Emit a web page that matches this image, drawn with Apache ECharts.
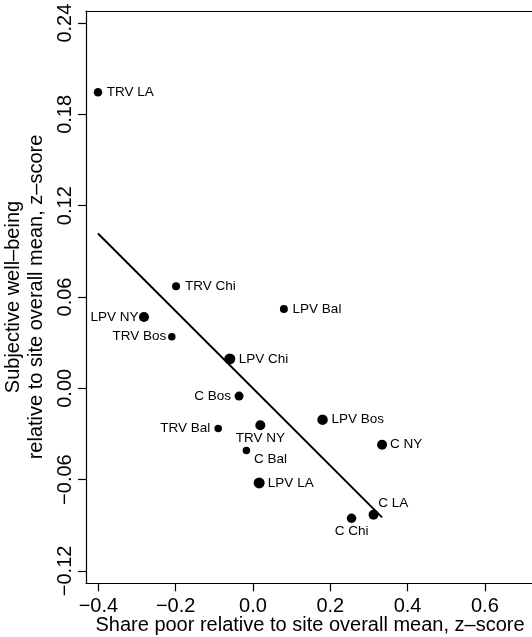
<!DOCTYPE html>
<html>
<head>
<meta charset="utf-8">
<script src="https://cdn.jsdelivr.net/npm/echarts@6/dist/echarts.min.js"></script>
<style>html,body{margin:0;padding:0;background:#fff}#c{width:532px;height:637px}</style>
</head>
<body>
<div id="c"></div>
<script>
// ---- data ----
var siteNames = ['TRV LA','TRV Chi','LPV NY','LPV Bal','TRV Bos','LPV Chi','C Bos','LPV Bos','TRV Bal','TRV NY','C NY','C Bal','LPV LA','C LA','C Chi'];
var sharePoor = [-0.401,-0.199,-0.282,0.080,-0.210,-0.060,-0.036,0.180,-0.090,0.019,0.334,-0.017,0.016,0.312,0.255];
var wellBeing = [0.1945,0.0670,0.0469,0.0521,0.0339,0.0193,-0.0051,-0.0206,-0.0265,-0.0243,-0.0371,-0.0408,-0.0622,-0.0831,-0.0854];
var pointSizes = [8.5,8,10,8,7.5,11,9,10.5,7.5,10,10,7.5,11,10,9.5];
var fitX = [-0.401, 0.334];
var fitY = [0.1017, -0.0848];
var xTicks = [-0.4,-0.2,0.0,0.2,0.4,0.6];
var yTicks = [-0.12,-0.06,0.00,0.06,0.12,0.18,0.24];

// ---- label layout (style only) ----
var labelAlign = ['left','left','right','left','right','left','right','left','right','center','left','left','left','left','center'];
var labelDx = [8.7,9,-5.5,8.7,-5.5,9,-8,9,-8,0,8,7.7,8.7,4.7,0];
var labelDy = [0,0,0,0,0,0,0,0,0,13,0,8.7,0,-11.3,13.3];

var FONT = 'Liberation Sans';
var XMIN = -0.432, XMAX = 0.7219, YMIN = -0.12815, YMAX = 0.24795;
function fmt(v, d){ var s = Math.abs(v).toFixed(d); return (v < -1e-9 ? '\u2212' : '') + s; }

var pts = siteNames.map(function(n, i){
  return {
    name: n,
    value: [sharePoor[i], wellBeing[i]],
    symbolSize: pointSizes[i],
    label: { align: labelAlign[i], offset: [labelDx[i], labelDy[i]] }
  };
});

var axisLineStyle = { color: '#000', width: 1.2 };
var chart = echarts.init(document.getElementById('c'), null, {renderer:'canvas'});
chart.setOption({
  animation: false,
  backgroundColor: '#fff',
  grid: { left: 86, top: 11, right: 0, bottom: 53.7, show: false, containLabel: false },
  xAxis: [{
    type: 'value', min: XMIN, max: XMAX,
    splitLine: { show: false },
    axisLine: { show: true, onZero: false, lineStyle: axisLineStyle },
    axisTick: { show: true, length: 8, customValues: xTicks, lineStyle: axisLineStyle },
    axisLabel: { customValues: xTicks, margin: 13, fontSize: 20, fontFamily: FONT, color: '#000',
      formatter: function(v){ return fmt(v, 1); } }
  }, {
    type: 'value', position: 'top', min: XMIN, max: XMAX,
    splitLine: { show: false },
    axisLine: { show: true, onZero: false, lineStyle: axisLineStyle },
    axisTick: { show: false }, axisLabel: { show: false }
  }],
  yAxis: {
    type: 'value', min: YMIN, max: YMAX,
    splitLine: { show: false },
    axisLine: { show: true, onZero: false, lineStyle: axisLineStyle },
    axisTick: { show: true, length: 8, customValues: yTicks, lineStyle: axisLineStyle },
    axisLabel: { customValues: yTicks, rotate: 90, margin: 11, fontSize: 20, fontFamily: FONT, color: '#000',
      formatter: function(v){ return fmt(v, 2); } }
  },
  series: [
    {
      type: 'line',
      data: fitX.map(function(x, i){ return [x, fitY[i]]; }),
      symbol: 'none',
      lineStyle: { color: '#000', width: 2 },
      z: 2
    },
    {
      type: 'scatter',
      data: pts,
      itemStyle: { color: '#000', opacity: 1 },
      z: 3,
      label: {
        show: true, position: 'inside', formatter: '{b}', color: '#000',
        verticalAlign: 'middle', fontSize: 13.5, fontFamily: FONT
      }
    }
  ],
  graphic: [
    { type: 'text', x: 310, y: 625.4, style: { text: 'Share poor relative to site overall mean, z\u2013score', font: '20px "Liberation Sans"', fill: '#000', textAlign: 'center', textVerticalAlign: 'middle' } },
    { type: 'text', x: 13, y: 297, rotation: Math.PI/2, style: { text: 'Subjective well\u2013being', font: '20px "Liberation Sans"', fill: '#000', textAlign: 'center', textVerticalAlign: 'middle' } },
    { type: 'text', x: 36, y: 297, rotation: Math.PI/2, style: { text: 'relative to site overall mean, z\u2013score', font: '20px "Liberation Sans"', fill: '#000', textAlign: 'center', textVerticalAlign: 'middle' } }
  ]
});
</script>
</body>
</html>
